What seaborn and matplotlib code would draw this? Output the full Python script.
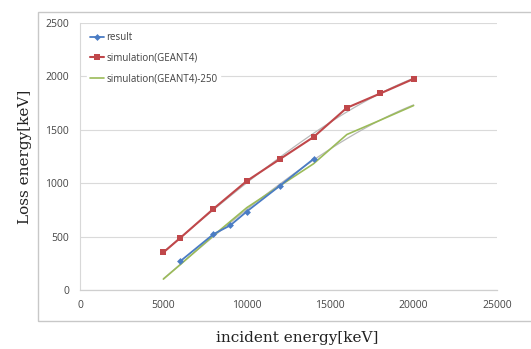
import matplotlib
matplotlib.use("Agg")
import matplotlib.pyplot as plt
import seaborn as sns
import pandas as pd
from matplotlib.patches import Rectangle

# data
incident_sim = [5000, 6000, 8000, 10000, 12000, 14000, 16000, 18000, 20000]
loss_sim = [352, 486, 760, 1021, 1227, 1432, 1706, 1840, 1977]
loss_sim_250 = [102, 236, 510, 771, 977, 1182, 1456, 1590, 1727]
incident_result = [6000, 8000, 9000, 10000, 12000, 14000]
loss_result = [268, 523, 604, 735, 978, 1227]

x_ticks = [0, 5000, 10000, 15000, 20000, 25000]
y_ticks = [0, 500, 1000, 1500, 2000, 2500]

sns.set_style("white")
plt.rcParams['font.family'] = ['Open Sans', 'DejaVu Sans']

fig = plt.figure(figsize=(5.31, 3.49), dpi=100)
# outer chart frame
fig.patches.append(Rectangle((38 / 531, 1 - 321 / 349), 0.99, (321 - 12) / 349,
                             transform=fig.transFigure, fill=False,
                             edgecolor='#c8c8c8', linewidth=1.0))
ax = fig.add_axes([80 / 531, 1 - 290 / 349, 417 / 531, 267 / 349])

df_sim = pd.DataFrame({"x": incident_sim, "sim": loss_sim, "sim250": loss_sim_250})
df_res = pd.DataFrame({"x": incident_result, "y": loss_result})

# faint trend lines (as in the original spreadsheet chart)
sns.regplot(data=df_sim, x="x", y="sim", order=3, ci=None, scatter=False, ax=ax,
            line_kws=dict(color='#b8b8b8', linewidth=0.9, zorder=2))
sns.regplot(data=df_sim, x="x", y="sim250", order=3, ci=None, scatter=False, ax=ax,
            line_kws=dict(color='#b8b8b8', linewidth=0.9, zorder=2))

sns.lineplot(data=df_res, x="x", y="y", ax=ax, color='#4a7cc4', marker='D',
             markersize=3.5, markeredgewidth=0, linewidth=1.3, label='result', zorder=4)
sns.lineplot(data=df_sim, x="x", y="sim", ax=ax, color='#c0474a', marker='s',
             markersize=5, markeredgewidth=0, linewidth=1.5,
             label='simulation(GEANT4)', zorder=3)
sns.lineplot(data=df_sim, x="x", y="sim250", ax=ax, color='#9bbb59', linewidth=1.2,
             label='simulation(GEANT4)-250', zorder=3)

ax.set_xlim(0, 25000)
ax.set_ylim(0, 2500)
ax.set_xticks(x_ticks)
ax.set_yticks(y_ticks)
ax.set_xticklabels([str(t) for t in x_ticks])
ax.set_yticklabels([str(t) for t in y_ticks])
ax.tick_params(axis='both', labelsize=7.5, labelcolor='#454545', color='#d0d0d0',
               width=0.8)
ax.tick_params(axis='x', direction='in', length=3, pad=7)
ax.tick_params(axis='y', direction='out', length=3, pad=5)
ax.grid(axis='y', color='#dadada', linewidth=0.8)
ax.set_axisbelow(True)
for side in ['top', 'right']:
    ax.spines[side].set_visible(False)
ax.spines['left'].set_color('#d8d8d8')
ax.spines['bottom'].set_color('#cfcfcf')
ax.spines['left'].set_linewidth(0.8)
ax.spines['bottom'].set_linewidth(0.9)

ax.set_xlabel("")
ax.set_ylabel("")
fig.text(297 / 531, 1 - 338 / 349, "incident energy[keV]", ha='center', va='center',
         fontsize=11, family=['DejaVu Serif'], color='#222222')
fig.text(25 / 531, 1 - 157 / 349, "Loss energy[keV]", ha='center', va='center',
         rotation=90, fontsize=11, family=['DejaVu Serif'], color='#222222')

leg = ax.legend(loc='upper left', bbox_to_anchor=(0.005, 0.995), frameon=True,
                fontsize=7, handlelength=1.5, handletextpad=0.2, labelspacing=1.0,
                borderpad=0.3)
leg.get_frame().set_facecolor('white')
leg.get_frame().set_edgecolor('white')
leg.get_frame().set_alpha(1.0)
for t in leg.get_texts():
    t.set_color('#404040')

fig.savefig("out.png", dpi=100)
